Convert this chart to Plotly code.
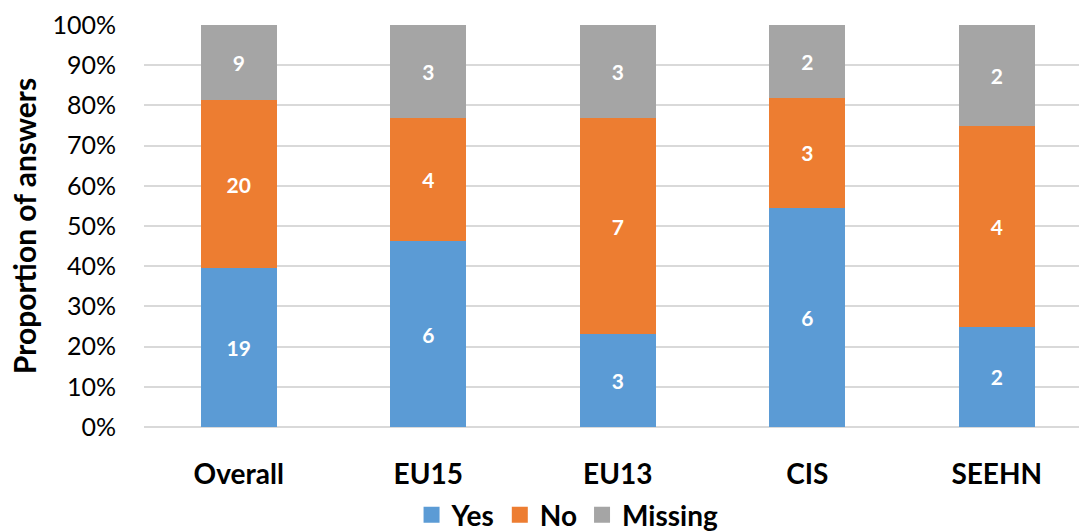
import plotly.graph_objects as go

categories = ["Overall", "EU15", "EU13", "CIS", "SEEHN"]
yes = [19, 6, 3, 6, 2]
no = [20, 4, 7, 3, 4]
missing = [9, 3, 3, 2, 2]
tick_vals = [0, 10, 20, 30, 40, 50, 60, 70, 80, 90, 100]
tick_text = [f"{v}%" for v in tick_vals]

FONT = "Lato, Open Sans, sans-serif"
series = [("Yes", yes, "#5B9BD5"), ("No", no, "#ED7D31"), ("Missing", missing, "#A5A5A5")]

fig = go.Figure()
for name, vals, col in series:
    fig.add_trace(go.Bar(
        x=categories, y=vals, name=name, marker=dict(color=col, line=dict(width=0)),
        text=[str(v) for v in vals], textposition="inside", insidetextanchor="middle",
        textfont=dict(family=FONT, size=21, color="white", weight="bold"),
        width=0.40, textangle=0, showlegend=False,
    ))
# legend proxies with larger square swatches
for name, vals, col in series:
    fig.add_trace(go.Scatter(
        x=[None], y=[None], mode="markers", name=name,
        marker=dict(symbol="square", size=19, color=col), showlegend=True,
    ))

fig.update_layout(
    barmode="stack", barnorm="percent",
    width=1079, height=531,
    margin=dict(l=144, r=0, t=25, b=104),
    plot_bgcolor="white", paper_bgcolor="white",
    font=dict(family=FONT, size=25, color="black"),
    showlegend=True,
    legend=dict(orientation="h", x=0.526, xanchor="center", xref="container",
                yref="container", y=0.03, yanchor="middle",
                font=dict(family=FONT, size=28, weight="bold"),
                itemsizing="trace", traceorder="normal", itemwidth=30),
    uniformtext=dict(minsize=10, mode="show"),
)
fig.update_xaxes(range=[-0.5, 4.434], showgrid=False, showline=False, ticks="",
                 tickfont=dict(family=FONT, size=28, weight="bold"), ticklabelstandoff=28)
fig.update_yaxes(range=[0, 100], tickvals=tick_vals, ticktext=tick_text,
                 showgrid=True, gridcolor="#D9D9D9", gridwidth=1.5, zeroline=True,
                 zerolinecolor="#D9D9D9", zerolinewidth=1.5,
                 tickfont=dict(family=FONT, size=25), ticklabelstandoff=27,
                 title=dict(text="Proportion of answers", standoff=6,
                            font=dict(family=FONT, size=30, weight="bold")))

fig.write_html("out.html")
